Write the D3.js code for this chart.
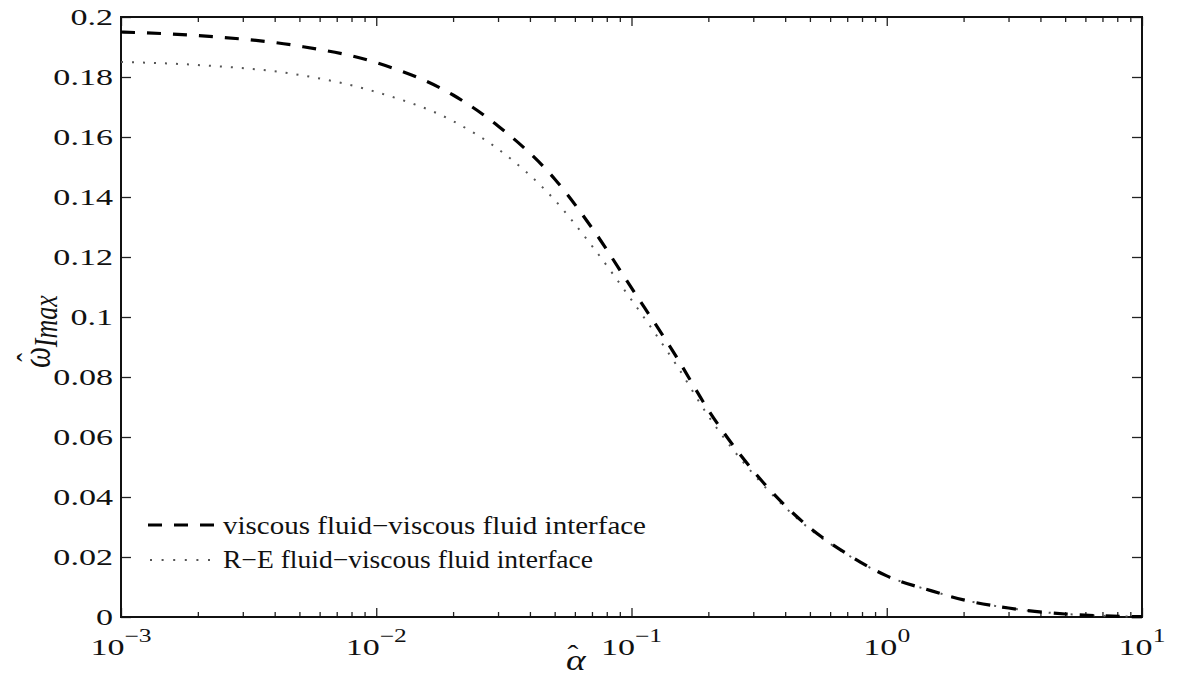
<!DOCTYPE html>
<html lang="en">
<head>
    <meta charset="UTF-8">
    <title>omega_Imax vs alpha</title>
    <script src="https://cdn.jsdelivr.net/npm/d3@7"></script>
    <style>
        body { margin: 0; background: #fff; }
        text { font-family: "Liberation Serif", "Times New Roman", serif; fill: #111; }
    </style>
</head>
<body>
<script>
    // alpha-hat values (log axis) and the two curves
    const alphas = [0.001, 0.002, 0.005, 0.01, 0.02, 0.03, 0.05, 0.07, 0.1, 0.15, 0.2, 0.3, 0.5, 0.7, 1, 1.5, 2, 3, 5, 7, 10];
    const viscousViscous = [0.195, 0.1938, 0.1903, 0.1848, 0.174, 0.1637, 0.146, 0.1297, 0.1097, 0.0867, 0.069, 0.0487, 0.0297, 0.021, 0.0137, 0.0087, 0.0057, 0.003, 0.001, 0.0004, 0.0001];
    const reViscous = [0.185, 0.184, 0.1807, 0.175, 0.1653, 0.156, 0.139, 0.1237, 0.1057, 0.084, 0.067, 0.0477, 0.0293, 0.0208, 0.0137, 0.0087, 0.0057, 0.003, 0.001, 0.0004, 0.0001];

    const yTicks = [0, 0.02, 0.04, 0.06, 0.08, 0.1, 0.12, 0.14, 0.16, 0.18, 0.2];
    const xMajor = [1e-3, 1e-2, 1e-1, 1, 10];
    const xExp = ["\u22123", "\u22122", "\u22121", "0", "1"];
    const legendLabels = ["viscous fluid\u2212viscous fluid interface", "R\u2212E fluid\u2212viscous fluid interface"];

    const width = 1178, height = 681;
    const mL = 121, mR = 1142, mT = 17, mB = 617;
    const sx = 1.42; // the figure is stretched sideways

    const x = d3.scaleLog().domain([1e-3, 10]).range([mL, mR]);
    const y = d3.scaleLinear().domain([0, 0.2]).range([mB, mT]);

    const xMinor = [];
    for (let e = -3; e < 1; e++) for (let m = 2; m < 10; m++) xMinor.push(m * Math.pow(10, e));

    const svg = d3.select("body").append("svg")
        .attr("width", width)
        .attr("height", height);

    // ticks (inward) on all four sides
    const noLabel = () => "";
    const axes = [
        [d3.axisBottom(x).tickValues(xMajor).tickSize(-9), mB],
        [d3.axisBottom(x).tickValues(xMinor).tickSize(-5), mB],
        [d3.axisTop(x).tickValues(xMajor).tickSize(-9), mT],
        [d3.axisTop(x).tickValues(xMinor).tickSize(-5), mT]
    ];
    axes.forEach(([ax, ty]) => {
        svg.append("g")
            .attr("transform", `translate(0,${ty})`)
            .call(ax.tickFormat(noLabel).tickSizeOuter(0))
            .call(g => g.select(".domain").remove())
            .call(g => g.selectAll("line").attr("stroke", "#222").attr("stroke-width", 1.3));
    });
    [[d3.axisLeft(y), mL], [d3.axisRight(y), mR]].forEach(([ax, tx]) => {
        svg.append("g")
            .attr("transform", `translate(${tx},0)`)
            .call(ax.tickValues(yTicks).tickSize(-10).tickSizeOuter(0).tickFormat(noLabel))
            .call(g => g.select(".domain").remove())
            .call(g => g.selectAll("line").attr("stroke", "#222").attr("stroke-width", 1.3));
    });

    // frame
    svg.append("rect")
        .attr("x", mL).attr("y", mT)
        .attr("width", mR - mL).attr("height", mB - mT)
        .attr("fill", "none").attr("stroke", "#111").attr("stroke-width", 2);

    // y tick labels
    svg.append("g").selectAll("g")
        .data(yTicks)
        .join("g")
        .attr("transform", d => `translate(113,${y(d) + 8}) scale(${sx},1)`)
        .append("text")
        .attr("text-anchor", "end")
        .style("font-size", "24px")
        .text(d => d3.format("~g")(d));

    // x tick labels 10^n
    const xl = svg.append("g").selectAll("g")
        .data(xMajor)
        .join("g")
        .attr("transform", d => `translate(${x(d)},655) scale(${sx},1)`)
        .append("text")
        .attr("text-anchor", "middle")
        .style("font-size", "24px");
    xl.append("tspan").text("10");
    xl.append("tspan").attr("dy", -13).style("font-size", "18px").text((d, i) => xExp[i]);

    // curves
    const line = d3.line()
        .x(d => x(d[0]))
        .y(d => y(d[1]))
        .curve(d3.curveMonotoneX);

    svg.append("path")
        .datum(alphas.map((a, i) => [a, reViscous[i]]))
        .attr("d", line)
        .attr("fill", "none")
        .attr("stroke", "#555")
        .attr("stroke-width", 2)
        .attr("stroke-dasharray", "2,9");

    svg.append("path")
        .datum(alphas.map((a, i) => [a, viscousViscous[i]]))
        .attr("d", line)
        .attr("fill", "none")
        .attr("stroke", "#000")
        .attr("stroke-width", 3.2)
        .attr("stroke-dasharray", "14,12");

    // legend
    const legend = svg.append("g");
    legend.append("line")
        .attr("x1", 148).attr("x2", 214).attr("y1", 525).attr("y2", 525)
        .attr("stroke", "#000").attr("stroke-width", 3.2).attr("stroke-dasharray", "14,12");
    legend.append("line")
        .attr("x1", 150).attr("x2", 210).attr("y1", 560).attr("y2", 560)
        .attr("stroke", "#555").attr("stroke-width", 2).attr("stroke-dasharray", "2,9.6");
    legend.selectAll("text.lab")
        .data(legendLabels)
        .join("text")
        .attr("class", "lab")
        .attr("x", 223)
        .attr("y", (d, i) => 534 + i * 34)
        .attr("textLength", (d, i) => i === 0 ? 423 : 370)
        .attr("lengthAdjust", "spacingAndGlyphs")
        .style("font-size", "25px")
        .text(d => d);

    // x axis label: alpha with a hat
    const xt = svg.append("g").attr("transform", `translate(576,670) scale(1.25,1)`)
        .append("text").attr("x", -8).style("font-size", "30px");
    xt.append("tspan").style("font-style", "italic").text("\u03b1");
    xt.append("tspan").attr("dx", -14.5).attr("dy", -7).style("font-size", "26px").text("\u02c6");

    // y axis label: omega hat with subscript I max
    const yt = svg.append("g").attr("transform", `translate(50,368) scale(1.3,1) rotate(-90)`)
        .append("text").style("font-size", "30px");
    yt.append("tspan").style("font-style", "italic").text("\u03c9");
    yt.append("tspan").attr("dx", -15).attr("dy", -7).style("font-size", "26px").text("\u02c6");
    yt.append("tspan").attr("dx", 6).attr("dy", 12).style("font-style", "italic").style("font-size", "26px").text("Imax");
</script>
</body>
</html>
